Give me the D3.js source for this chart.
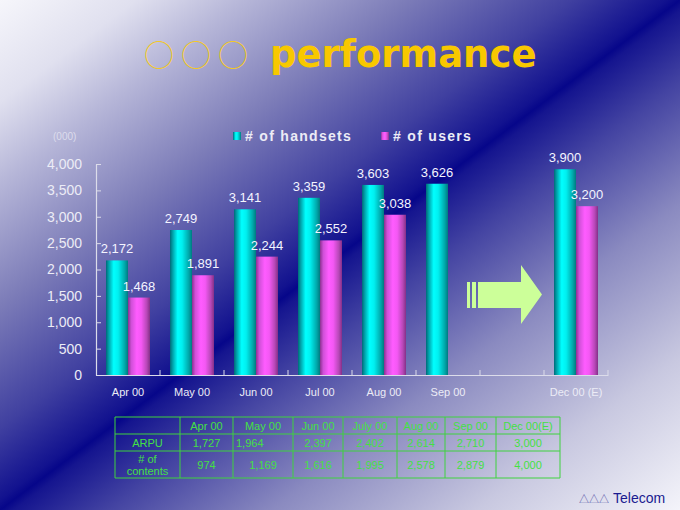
<!DOCTYPE html>
<html>
<head>
<meta charset="utf-8">
<script src="https://cdn.jsdelivr.net/npm/d3@7"></script>
<style>
  html, body { margin: 0; padding: 0; background: #fff; }
  svg { display: block; }
</style>
</head>
<body>
<svg id="chart" width="680" height="510"></svg>
<script>
// ---------- data ----------
const categories = ["Apr 00", "May 00", "Jun 00", "Jul 00", "Aug 00", "Sep 00", "", "Dec 00 (E)"];
const handsets = [2172, 2749, 3141, 3359, 3603, 3626, null, 3900];
const users    = [1468, 1891, 2244, 2552, 3038, null, null, 3200];
const seriesNames = ["# of handsets", "# of users"];
const yTicks = [0, 500, 1000, 1500, 2000, 2500, 3000, 3500, 4000];

const tableHeader = ["", "Apr 00", "May 00", "Jun 00", "July 00", "Aug 00", "Sep 00", "Dec 00(E)"];
const arpu     = ["ARPU", "1,727", "1,964", "2,397", "2,402", "2,614", "2,710", "3,000"];
const contents = ["# of|contents", "974", "1,169", "1,616", "1,995", "2,578", "2,879", "4,000"];

// ---------- setup ----------
const svg = d3.select("#chart");
const defs = svg.append("defs");

// background gradient
const bg = defs.append("linearGradient").attr("id", "bg")
  .attr("x1", 0).attr("y1", 0).attr("x2", 1).attr("y2", 1);
[[0, "#f6f6fb"], [0.1, "#e0e0ef"], [0.18, "#b6b6d8"], [0.3, "#7c7cb8"], [0.42, "#4040a0"], [0.49, "#12128f"],
 [0.5, "#06068a"], [0.51, "#15158f"], [0.58, "#4444a2"], [0.7, "#8a8ac0"], [0.85, "#c8c8e0"], [1, "#f4f4fa"]]
  .forEach(([o, c]) => bg.append("stop").attr("offset", o).attr("stop-color", c));

const gCyan = defs.append("linearGradient").attr("id", "gcyan").attr("x1", 0).attr("x2", 1).attr("y1", 0).attr("y2", 0);
[[0, "#006a78"], [0.12, "#00a0a8"], [0.35, "#00ffff"], [0.55, "#00f0f0"], [0.85, "#00a8aa"], [1, "#007a80"]]
  .forEach(([o, c]) => gCyan.append("stop").attr("offset", o).attr("stop-color", c));
const gMag = defs.append("linearGradient").attr("id", "gmag").attr("x1", 0).attr("x2", 1).attr("y1", 0).attr("y2", 0);
[[0, "#8a3090"], [0.15, "#d050d8"], [0.4, "#ff5cff"], [0.6, "#f458f4"], [0.85, "#b848b8"], [1, "#843088"]]
  .forEach(([o, c]) => gMag.append("stop").attr("offset", o).attr("stop-color", c));

svg.append("rect").attr("width", 680).attr("height", 510).attr("fill", "url(#bg)");

// ---------- title ----------
svg.append("text").attr("x", 144).attr("y", 66)
  .attr("font-family", "'Noto Sans CJK SC'").attr("font-size", 30).attr("font-weight", 300)
  .attr("letter-spacing", 7)
  .attr("fill", "#f2c828").text("○○○");
svg.append("text").attr("x", 270).attr("y", 67)
  .attr("font-family", "'DejaVu Sans'").attr("font-weight", "bold").attr("font-size", 37)
  .attr("fill", "#f8c800").text("performance");

// ---------- scales ----------
const x = d3.scaleBand().domain(categories).range([96, 608]).padding(0);
const groupW = 44;
const xs = d3.scaleBand().domain(seriesNames).range([0, groupW]).padding(0);
const y = d3.scaleLinear().domain([0, 4000]).range([375, 164]);

const axisColor = "#dcdcea";
const lightText = "#ececf6";

// y axis
const yAxis = svg.append("g").attr("transform", "translate(96,0)")
  .call(d3.axisLeft(y).tickValues(yTicks).tickFormat(d3.format(",")).tickSizeInner(-5).tickSizeOuter(0).tickPadding(14));
yAxis.select(".domain").attr("stroke", axisColor).attr("stroke-width", 1.2);
yAxis.selectAll(".tick line").attr("stroke", axisColor);
yAxis.selectAll(".tick text").attr("fill", lightText).attr("font-family", "'Liberation Sans', Arial").attr("font-size", 14);

svg.append("text").attr("x", 53).attr("y", 140).attr("font-family", "'Liberation Sans', Arial")
  .attr("font-size", 10).attr("fill", "#dcdcec").text("(000)");

// x axis
const xAxis = svg.append("g").attr("transform", "translate(0,375)")
  .call(d3.axisBottom(x).tickSize(0).tickPadding(13).tickSizeOuter(0));
xAxis.select(".domain").attr("stroke", axisColor).attr("stroke-width", 1.2);
xAxis.selectAll(".tick text").attr("fill", lightText).attr("font-family", "'Liberation Sans', Arial").attr("font-size", 11);
// boundary tick marks pointing up
const bounds = categories.slice(1).map(c => x(c)).concat([x.range()[1]]);
xAxis.selectAll(".btick").data(bounds).join("line").attr("class", "btick")
  .attr("x1", d => d).attr("x2", d => d).attr("y1", 0).attr("y2", -5).attr("stroke", axisColor);

// ---------- bars ----------
const off = (x.bandwidth() - groupW) / 2;
const series = [
  { name: seriesNames[0], values: handsets, fill: "url(#gcyan)" },
  { name: seriesNames[1], values: users, fill: "url(#gmag)" }
];
series.forEach(s => {
  const data = categories.map((c, i) => ({ c, v: s.values[i] })).filter(d => d.v != null);
  const g = svg.append("g");
  g.selectAll("rect").data(data).join("rect")
    .attr("x", d => x(d.c) + off + xs(s.name))
    .attr("width", xs.bandwidth())
    .attr("y", d => y(d.v))
    .attr("height", d => y(0) - y(d.v))
    .attr("fill", s.fill);
  g.selectAll("text").data(data).join("text")
    .attr("x", d => x(d.c) + off + xs(s.name) + xs.bandwidth() / 2)
    .attr("y", d => y(d.v) - 7)
    .attr("text-anchor", "middle")
    .attr("font-family", "'Liberation Sans', Arial").attr("font-size", 13)
    .attr("fill", "#f4f4ff")
    .text(d => d3.format(",")(d.v));
});

// ---------- legend ----------
const legend = svg.append("g");
[[233, 245, "url(#gcyan)"], [381, 393, "url(#gmag)"]].forEach(([sx, tx, f], i) => {
  legend.append("rect").attr("x", sx).attr("y", 132).attr("width", 8).attr("height", 8).attr("fill", f);
  legend.append("text").attr("x", tx).attr("y", 141)
    .attr("font-family", "'Liberation Sans', Arial").attr("font-weight", "bold").attr("font-size", 14)
    .attr("letter-spacing", 1.3).attr("fill", "#ececf6").text(seriesNames[i]);
});

// ---------- arrow (decoration in the blank band) ----------
const bx = x("");
const ay0 = 282, ay1 = 308, ah0 = 265, ah1 = 324, am = (ah0 + ah1) / 2;
const arrow = svg.append("g").attr("fill", "#ccff99");
arrow.append("rect").attr("x", bx - 13).attr("y", ay0).attr("width", 3).attr("height", ay1 - ay0);
arrow.append("rect").attr("x", bx - 8).attr("y", ay0).attr("width", 4).attr("height", ay1 - ay0);
arrow.append("path").attr("d",
  `M${bx - 2},${ay0} L${bx + 41},${ay0} L${bx + 41},${ah0} L${bx + 62},${am} L${bx + 41},${ah1} L${bx + 41},${ay1} L${bx - 2},${ay1} Z`);

// ---------- table ----------
const colX = [115, 180, 233, 293, 343, 397, 445, 496, 560];
const rowY = [417, 434, 451, 478];
const green = "#3ed23e";
const tbl = svg.append("g");
colX.forEach(cx => tbl.append("line").attr("x1", cx).attr("x2", cx).attr("y1", rowY[0]).attr("y2", rowY[3])
  .attr("stroke", green).attr("stroke-width", 1));
rowY.forEach(ry => tbl.append("line").attr("x1", colX[0]).attr("x2", colX[8]).attr("y1", ry).attr("y2", ry)
  .attr("stroke", green).attr("stroke-width", 1));
const rows = [tableHeader, arpu, contents];
rows.forEach((row, ri) => {
  row.forEach((cell, ci) => {
    if (!cell) return;
    const cxm = (colX[ci] + colX[ci + 1]) / 2;
    const lines = cell.split("|");
    const cy = (rowY[ri] + rowY[ri + 1]) / 2;
    const t = tbl.append("text").attr("text-anchor", "middle")
      .attr("font-family", "'Liberation Sans', Arial").attr("font-size", 11).attr("fill", "#44e044");
    if (ri === 1 && ci === 2) { t.attr("text-anchor", "start"); }
    lines.forEach((ln, li) => {
      t.append("tspan")
        .attr("x", (ri === 1 && ci === 2) ? colX[ci] + 3 : cxm)
        .attr("y", cy + 4 + (li - (lines.length - 1) / 2) * 12)
        .text(ln);
    });
  });
});

// ---------- footer ----------
svg.append("text").attr("x", 579).attr("y", 503)
  .attr("font-family", "'Noto Sans CJK SC'").attr("font-size", 10).attr("fill", "#5858a8").text("△△△");
svg.append("text").attr("x", 613).attr("y", 503)
  .attr("font-family", "'Liberation Sans', Arial").attr("font-size", 14).attr("fill", "#1a1a90").text("Telecom");
</script>
</body>
</html>
